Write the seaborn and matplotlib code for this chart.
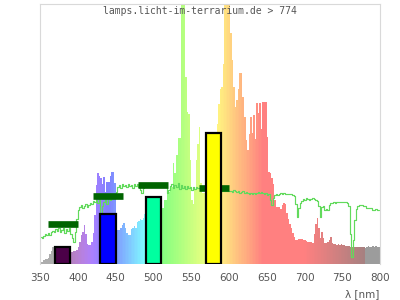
import numpy as np
import pandas as pd
import matplotlib
matplotlib.use("Agg")
import matplotlib.pyplot as plt
import seaborn as sns

# ---- data (relative units) ----
wl_start, wl_step = 350, 2
spectrum = [
    2, 2, 4, 5, 5, 6, 10, 13, 17, 17,
    15, 14, 14, 13, 13, 13, 13, 12, 12, 12,
    12, 12, 13, 13, 14, 17, 22, 29, 32, 39,
    30, 20, 19, 19, 22, 31, 49, 79, 91, 88,
    86, 80, 87, 72, 82, 82, 88, 92, 92, 81,
    34, 34, 34, 36, 39, 41, 36, 31, 29, 29,
    35, 36, 38, 36, 42, 43, 45, 44, 46, 50,
    52, 54, 55, 55, 56, 57, 58, 57, 55, 52,
    47, 56, 64, 64, 72, 72, 77, 77, 101, 91,
    109, 126, 126, 265, 265, 265, 187, 152, 150, 104,
    64, 60, 74, 104, 120, 137, 81, 71, 71, 90,
    100, 105, 110, 115, 120, 125, 128, 140, 160, 175,
    177, 200, 265, 265, 265, 265, 231, 204, 177, 157,
    164, 175, 191, 191, 167, 147, 124, 114, 130, 147,
    131, 149, 125, 161, 151, 161, 135, 162, 162, 162,
    127, 92, 91, 86, 80, 64, 57, 57, 57, 55,
    59, 61, 60, 51, 45, 40, 36, 31, 27, 24,
    24, 25, 25, 25, 24, 24, 23, 22, 22, 22,
    21, 30, 40, 46, 36, 26, 32, 26, 21, 21,
    22, 24, 27, 21, 20, 20, 19, 20, 19, 20,
    19, 19, 18, 18, 18, 17, 17, 17, 17, 17,
    17, 17, 17, 17, 17, 16, 17, 18, 17, 17,
    18, 17, 18, 17, 17,
]
reference_curve = [
    27, 26, 28, 30, 29, 31, 29, 32, 33, 32,
    35, 33, 36, 32, 34, 36, 31, 35, 33, 36,
    30, 26, 22, 32, 45, 54, 57, 59, 56, 58,
    60, 57, 59, 61, 60, 63, 62, 64, 61, 65,
    49, 58, 62, 65, 60, 66, 64, 67, 70, 66,
    72, 77, 79, 76, 80, 78, 79, 77, 80, 78,
    79, 76, 80, 78, 80, 77, 74, 71, 76, 79,
    79, 78, 80, 79, 78, 80, 79, 78, 80, 79,
    78, 79, 78, 77, 71, 74, 78, 80, 76, 79,
    77, 81, 75, 79, 76, 78, 75, 78, 76, 77,
    74, 77, 75, 77, 76, 76, 75, 76, 75, 74,
    75, 74, 75, 74, 75, 74, 73, 74, 73, 74,
    73, 74, 73, 74, 73, 73, 73, 72, 74, 73,
    72, 73, 71, 72, 73, 71, 72, 71, 70, 71,
    70, 71, 70, 71, 72, 71, 72, 71, 70, 71,
    69, 70, 64, 59, 66, 69, 70, 69, 70, 71,
    70, 71, 70, 70, 70, 70, 70, 69, 68, 60,
    47, 56, 61, 63, 65, 64, 66, 65, 64, 65,
    66, 65, 64, 63, 58, 47, 57, 58, 54, 55,
    54, 59, 61, 61, 62, 61, 62, 62, 62, 62,
    62, 62, 62, 61, 58, 30, 7, 24, 44, 55,
    58, 59, 59, 59, 58, 58, 56, 56, 56, 56,
    54, 54, 55, 54, 54,
]

band_lo = [370, 430, 490, 570]
band_hi = [390, 450, 510, 590]
band_value = [17, 50, 67, 131]
band_colors = ["#4b0048", "#0000ff", "#00ffa0", "#ffff00"]

range_lo = [360, 420, 480, 560]
range_hi = [400, 460, 520, 600]
range_level = [40, 68, 79, 76]

x_ticks = [350, 400, 450, 500, 550, 600, 650, 700, 750, 800]
title = "lamps.licht-im-terrarium.de > 774"
x_label = "λ [nm]"

wl = wl_start + wl_step * np.arange(len(spectrum))
df = pd.DataFrame({"center": wl + wl_step / 2,
                   "value": spectrum,
                   "curve": reference_curve})


def spec_color(w):
    if w < 380:
        return (0.68, 0.68, 0.68)
    if w >= 780:
        return (0.61, 0.61, 0.61)
    if w < 440:
        r, g, b = -(w - 440) / 60, 0, 1
    elif w < 490:
        r, g, b = 0, (w - 440) / 50, 1
    elif w < 510:
        r, g, b = 0, 1, -(w - 510) / 20
    elif w < 580:
        r, g, b = (w - 510) / 70, 1, 0
    elif w < 645:
        r, g, b = 1, -(w - 645) / 65, 0
    else:
        r, g, b = 1, 0, 0
    if w < 420:
        f = 0.3 + 0.7 * (w - 380) / 40
    elif w > 700:
        f = 0.3 + 0.7 * (780 - w) / 80
    else:
        f = 1.0
    c = 0.5 + 0.5 * f * np.array([r, g, b])
    return tuple(np.clip(c, 0, 1))


sns.set_style("white")
fig = plt.figure(figsize=(4, 3), dpi=100)
ax = fig.add_axes([0.1, 0.12, 0.85, 0.868])

# spectrum as coloured histogram bars
sns.histplot(data=df, x="center", weights="value", binwidth=wl_step,
             binrange=(wl_start, wl_start + wl_step * len(spectrum)), ax=ax,
             element="bars", fill=True, linewidth=0, alpha=1, zorder=1)
for p in ax.patches:
    x0 = p.get_x()
    p.set_facecolor(spec_color(x0 + wl_step / 2))
    p.set_edgecolor("none")

# reference curve
sns.lineplot(data=df, x="center", y="curve", ax=ax, color="#62da5c",
             linewidth=0.85, drawstyle="steps-mid", zorder=2)

# dark green range markers
ax.hlines(range_level, range_lo, range_hi, colors="#006400", linewidth=4.8,
          zorder=3)

# black outlined band bars
ax.bar(band_lo, band_value, width=np.array(band_hi) - np.array(band_lo),
       align="edge", color=band_colors, edgecolor="black", linewidth=1.6,
       zorder=4)

ax.set_xlim(350, 800)
ax.set_ylim(0, 260.5)
ax.set_xticks(x_ticks)
ax.set_xticklabels([str(t) for t in x_ticks])
ax.set_yticks([])
ax.set_xlabel("")
ax.set_ylabel("")
ax.tick_params(axis="x", length=0, pad=6.5, labelsize=7.5, labelcolor="#555555")
for s in ["left", "top", "right"]:
    ax.spines[s].set_color("#d9d9d9")
    ax.spines[s].set_linewidth(0.8)
ax.spines["bottom"].set_visible(False)

fig.text(0.5, 1 - 11 / 300, title, ha="center", va="center",
         family="DejaVu Sans Mono", fontsize=7, color="#555555")
fig.text(379.5 / 400, 1 - 294 / 300, x_label, ha="right", va="center",
         fontsize=7.5, color="#555555")

fig.savefig("out.png", dpi=100)
